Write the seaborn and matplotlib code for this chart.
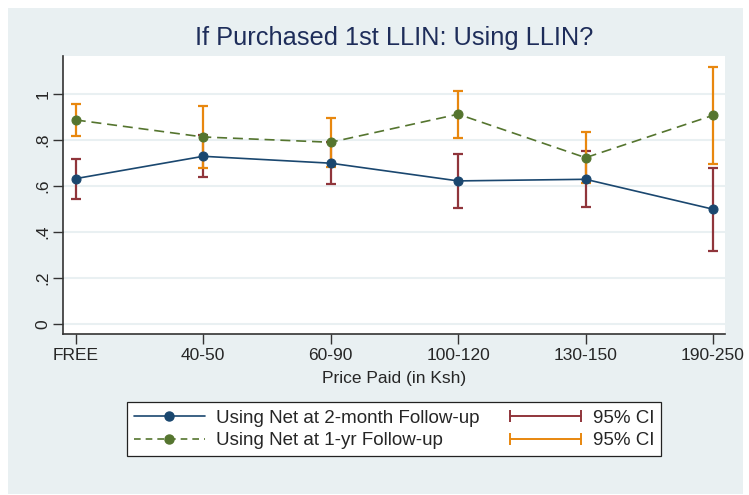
import matplotlib
matplotlib.use("Agg")
import matplotlib.pyplot as plt
from matplotlib.lines import Line2D
from matplotlib.legend_handler import HandlerLine2D
from matplotlib.patches import Rectangle
import numpy as np
import pandas as pd
import seaborn as sns

# ---- data ----
categories = ["FREE", "40-50", "60-90", "100-120", "130-150", "190-250"]
two_month = [0.632, 0.729, 0.699, 0.622, 0.629, 0.499]
two_month_lo = [0.545, 0.639, 0.610, 0.504, 0.507, 0.319]
two_month_hi = [0.719, 0.820, 0.790, 0.739, 0.752, 0.680]
one_year = [0.887, 0.813, 0.790, 0.912, 0.723, 0.907]
one_year_lo = [0.817, 0.678, 0.683, 0.809, 0.613, 0.696]
one_year_hi = [0.955, 0.948, 0.896, 1.015, 0.835, 1.119]
ytick_vals = [0, 0.2, 0.4, 0.6, 0.8, 1.0]
ytick_labels = ["0", ".2", ".4", ".6", ".8", "1"]
title = "If Purchased 1st LLIN: Using LLIN?"
xlabel = "Price Paid (in Ksh)"
label_2m = "Using Net at 2-month Follow-up"
label_1y = "Using Net at 1-yr Follow-up"
label_ci = "95% CI"

# ---- style ----
sns.set_style("white")
plt.rcParams["font.family"] = ["Liberation Sans", "DejaVu Sans"]

navy = "#1A476F"
maroon = "#90353B"
green = "#55752F"
orange = "#E8870E"
bg = "#E9F0F2"

W, H = 749, 495
fig = plt.figure(figsize=(W / 100, H / 100), dpi=100, facecolor="white")
fig.patches.append(Rectangle((8 / W, 1 - 494 / H), (743 - 8) / W, (494 - 8) / H,
                             transform=fig.transFigure, facecolor=bg,
                             edgecolor="none", zorder=-10))

left, right, top, bottom = 63, 725, 56, 334
ax = fig.add_axes([left / W, 1 - bottom / H, (right - left) / W, (bottom - top) / H])
ax.set_zorder(1)
ax.set_facecolor("white")

df = pd.DataFrame({
    "cat": categories,
    "m2": two_month, "m2lo": two_month_lo, "m2hi": two_month_hi,
    "y1": one_year, "y1lo": one_year_lo, "y1hi": one_year_hi,
})

# CI bars
ax.errorbar(df["cat"], df["m2"], yerr=[df["m2"] - df["m2lo"], df["m2hi"] - df["m2"]],
            fmt="none", ecolor=maroon, elinewidth=1.6, capsize=3.6, capthick=1.6, zorder=2)
ax.errorbar(df["cat"], df["y1"], yerr=[df["y1"] - df["y1lo"], df["y1hi"] - df["y1"]],
            fmt="none", ecolor=orange, elinewidth=1.6, capsize=3.6, capthick=1.6, zorder=2)

# lines
sns.lineplot(data=df, x="cat", y="m2", ax=ax, color=navy, marker="o", markersize=6.5,
             markeredgecolor=navy, linewidth=1.2, sort=False, zorder=3)
sns.lineplot(data=df, x="cat", y="y1", ax=ax, color=green, marker="o", markersize=6.5,
             markeredgecolor=green, linewidth=1.2, linestyle=(0, (6, 3.5)), sort=False, zorder=3)

ax.set_xlim(-0.1, 5.094)
ax.set_ylim(-0.0435, 1.165)
ax.set_yticks(ytick_vals)
ax.set_yticklabels(ytick_labels, rotation=90, va="center", fontsize=12.5)
ax.tick_params(axis="x", labelsize=12.5, length=7, width=1, color="#333333", pad=3, bottom=True)
ax.tick_params(axis="y", length=7, width=1, color="#333333", pad=2, left=True)
ax.set_xlabel(xlabel, fontsize=12.5, labelpad=6)
ax.set_ylabel("")
ax.yaxis.grid(True, color=bg, linewidth=1.5)
ax.xaxis.grid(False)
ax.set_axisbelow(True)

for s in ["top", "right"]:
    ax.spines[s].set_visible(False)
for s in ["left", "bottom"]:
    ax.spines[s].set_color("#333333")
    ax.spines[s].set_linewidth(1.2)

fig.text(394 / W, 1 - 38 / H, title, ha="center", va="center", fontsize=18.3, color="#1E2D5A")

# legend
fs = 13.5
h_m2 = Line2D([], [], color=navy, lw=1.2, marker="o", markersize=6.5)
h_y1 = Line2D([], [], color=green, lw=1.2, linestyle=(0, (4, 3)), marker="o", markersize=6.5)
h_ci1 = Line2D([], [], color=maroon, lw=1.4, marker="|", markersize=8, markeredgewidth=1.4)
h_ci2 = Line2D([], [], color=orange, lw=1.4, marker="|", markersize=8, markeredgewidth=1.4)
hm = {h_m2: HandlerLine2D(numpoints=1), h_y1: HandlerLine2D(numpoints=1),
      h_ci1: HandlerLine2D(numpoints=2, marker_pad=0), h_ci2: HandlerLine2D(numpoints=2, marker_pad=0)}
leg = fig.legend([h_m2, h_y1, h_ci1, h_ci2], [label_2m, label_1y, label_ci, label_ci],
                 handler_map=hm, ncol=2, loc="upper center",
                 bbox_to_anchor=(394 / W, 1 - 402.3 / H), bbox_transform=fig.transFigure,
                 fontsize=fs, handlelength=51 / fs, handletextpad=8.3 / fs, columnspacing=22 / fs,
                 labelspacing=0.3, borderpad=0.38, borderaxespad=0,
                 frameon=True, fancybox=False, edgecolor="#222222", facecolor="white",
                 framealpha=1)
leg.get_frame().set_linewidth(0.9)

fig.savefig("out.png", dpi=100, facecolor="white")
